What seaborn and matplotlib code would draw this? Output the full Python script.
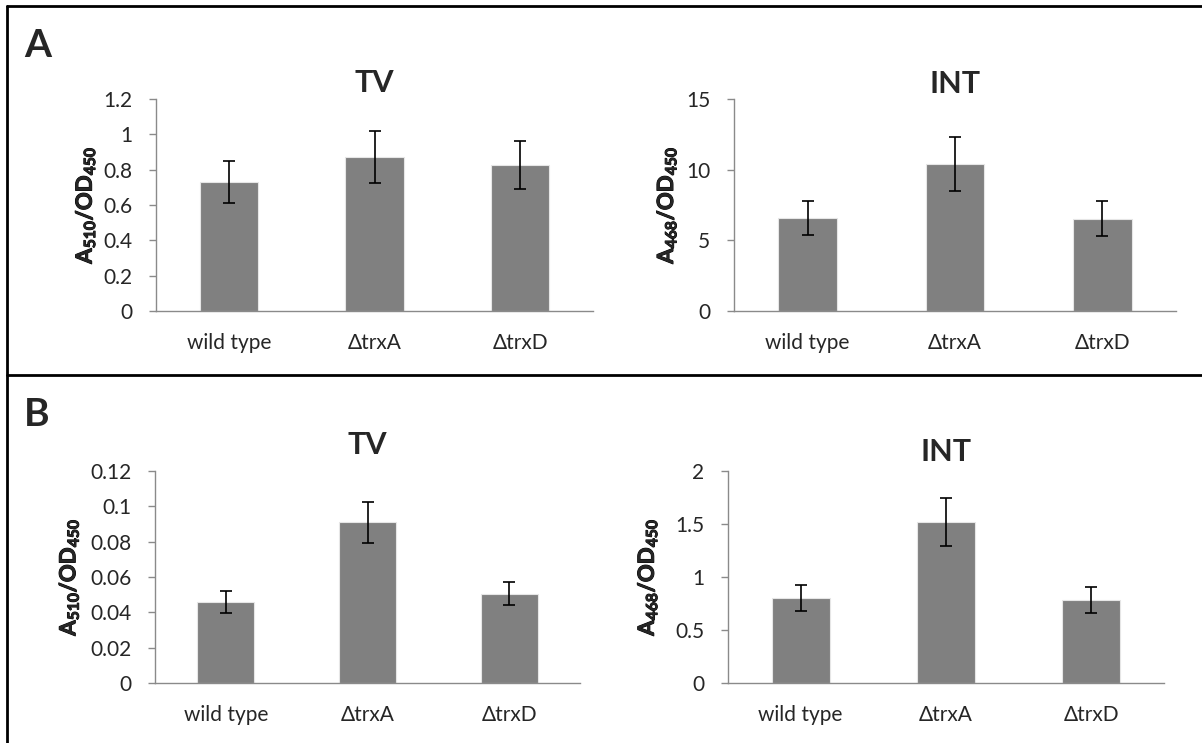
"""Thioredoxin mutants - TV and INT reduction, panels A and B.

Outputs out.png in the working directory.
"""
import numpy as np
import matplotlib
matplotlib.use("Agg")
import matplotlib.pyplot as plt
import matplotlib.patheffects as pe
from matplotlib.lines import Line2D
from matplotlib.ticker import FuncFormatter, MultipleLocator
import seaborn as sns

categories = ["wild type", "\u0394trxA", "\u0394trxD"]

# panel A
a_tv = [0.73, 0.873, 0.825]
a_tv_err = [0.12, 0.146, 0.136]
a_int = [6.56, 10.40, 6.54]
a_int_err = [1.21, 1.90, 1.22]

# panel B
b_tv = [0.0458, 0.0909, 0.0506]
b_tv_err = [0.0062, 0.0118, 0.0067]
b_int = [0.802, 1.519, 0.783]
b_int_err = [0.127, 0.229, 0.125]

BAR = "#808080"
AXIS = "#8a8a8a"

sns.set_style("white")
plt.rcParams["font.family"] = ["Lato", "DejaVu Sans"]
# only the y labels use mathtext, and they are bold throughout
plt.rcParams["mathtext.fontset"] = "custom"
plt.rcParams["mathtext.rm"] = "Lato:bold"
plt.rcParams["mathtext.it"] = "Lato:bold"
plt.rcParams["mathtext.bf"] = "Lato:bold"
plt.rcParams["mathtext.default"] = "bf"

fig = plt.figure(figsize=(12.02, 7.43), dpi=100)
W, H = 1202, 743


def px_axes(left, right, top, bottom):
    return fig.add_axes([left / W, 1 - bottom / H, (right - left) / W, (bottom - top) / H])


YLAB_TV = r"$\mathbf{A_{510}/OD_{450}}$"
YLAB_INT = r"$\mathbf{A_{468}/OD_{450}}$"

panels = [
    # values, errors, title, ylabel, ymax, step, axes box (px), title pad, label x
    (a_tv, a_tv_err, "TV", YLAB_TV, 1.2, 0.2, (156, 593, 99, 311), 5, -0.134),
    (a_int, a_int_err, "INT", YLAB_INT, 15, 5, (734, 1176, 99, 311), 4, -0.125),
    (b_tv, b_tv_err, "TV", YLAB_TV, 0.12, 0.02, (155, 580, 471, 683), 12.5, -0.174),
    (b_int, b_int_err, "INT", YLAB_INT, 2, 0.5, (728, 1164, 471, 683), 7.5, -0.157),
]

for vals, errs, title, ylab, ymax, step, box, tpad, labx in panels:
    ax = px_axes(*box)
    sns.barplot(x=categories, y=vals, color=BAR, saturation=1, width=0.4,
                edgecolor="#e6e6e6", linewidth=0.8, ax=ax)
    ax.errorbar(np.arange(len(categories)), vals, yerr=errs, fmt="none",
                ecolor="black", elinewidth=1.2, capsize=4, capthick=1.2)
    ax.set_xlim(-0.5, len(categories) - 0.5)
    ax.set_ylim(0, ymax)
    ax.yaxis.set_major_locator(MultipleLocator(step))
    ax.yaxis.set_major_formatter(FuncFormatter(lambda v, p: f"{round(v, 6):g}"))
    sns.despine(ax=ax)
    for s in ("left", "bottom"):
        ax.spines[s].set_color(AXIS)
        ax.spines[s].set_linewidth(1.0)
    ax.tick_params(axis="y", length=5, width=1.0, color=AXIS, pad=12,
                   labelsize=15, left=True, direction="out")
    ax.tick_params(axis="x", length=0, pad=16, labelsize=15)
    ax.set_title(title, fontsize=22, fontweight="bold", pad=tpad)
    ylabel = ax.set_ylabel(ylab, fontsize=16)
    ylabel.set_path_effects([pe.withStroke(linewidth=0.7, foreground="black")])
    ax.yaxis.set_label_coords(labx, 0.5)
    ax.set_xlabel("")

# panel letters
fig.text(24 / W, 1 - 57 / H, "A", fontsize=28, fontweight="bold", va="baseline")
fig.text(24 / W, 1 - 426 / H, "B", fontsize=28, fontweight="bold", va="baseline")

# frame lines around the two rows
lw = 2
for xs, ys in [((7, 7), (6, H)), ((7, W), (6, 6)), ((7, W), (375, 375))]:
    fig.add_artist(Line2D([x / W for x in xs], [1 - y / H for y in ys],
                          transform=fig.transFigure, color="black", lw=lw))

fig.savefig("out.png", dpi=100)
print("Saved: out.png")
